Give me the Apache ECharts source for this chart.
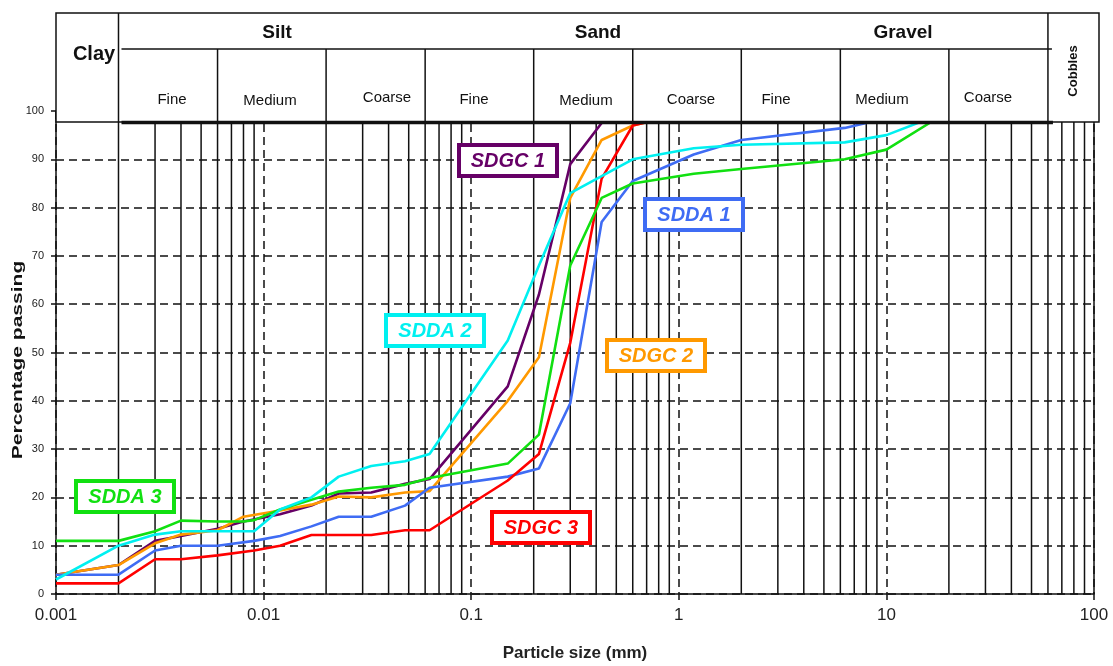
<!DOCTYPE html>
<html><head><meta charset="utf-8">
<script src="https://cdn.jsdelivr.net/npm/echarts/dist/echarts.min.js"></script>
<style>html,body{margin:0;padding:0;background:#fff}#c{width:1113px;height:666px}</style>
</head><body><div id="c"></div>
<script>
// ---- data ----
const sizes = [0.001,0.002,0.003,0.004,0.006,0.008,0.009,0.012,0.017,0.023,0.033,0.048,0.063,0.15,0.212,0.3,0.425,0.6,1.18,2,6.3,10,20];
const SDGC1 = [4,6,11,12,13.5,15,null,16.5,18.3,20.8,21,22.8,23.8,43,62,89,97.5,100,null,null,null,null,null];
const SDGC2 = [4,6,10.5,12.3,13.2,16,null,17.3,18.5,20.2,20,21,21.3,40,49,82,94,97,100,null,null,null,null];
const SDDA1 = [4,4,9,10,10,null,11,12,14,16,16,18.3,22,24.3,26,39.5,77,85.5,91,94,96.5,98.5,100];
const SDGC3 = [2.2,2.2,7.2,7.2,8,null,9,10,12.2,12.2,12.2,13.2,13.2,23.5,29,52,86,97,100,null,null,null,null];
const SDDA3 = [11,11,13,15.2,15,15,15.3,17.5,19.5,21.2,22,22.6,24,27,33,68,82,85,87,88,90,92,100];
const SDDA2 = [3,10,12.3,13,13,13,13,17.5,20,24.3,26.5,27.5,29,52.5,68,83,86.5,90,92.3,93,93.5,95,100];
const xTickLabels = ['0.001','0.01','0.1','1','10','100'];
const yTicks = [0,10,20,30,40,50,60,70,80,90,100];
const headerMain = ['Silt','Sand','Gravel'];
const headerSub = ['Fine','Medium','Coarse','Fine','Medium','Coarse','Fine','Medium','Coarse'];
const headerSubBounds = [0.002,0.006,0.02,0.06,0.2,0.6,2,6,20,60];
const minorGrid = [];
for (let e = -3; e < 2; e++) for (let k = 2; k <= 9; k++) minorGrid.push(+(k * Math.pow(10, e)).toPrecision(3));
minorGrid.push(100);

const FONT = '"Liberation Sans", Arial, sans-serif';
const seriesDefs = [
  {name:'SDGC 1', data:SDGC1, color:'#660066', box:[457,143]},
  {name:'SDGC 2', data:SDGC2, color:'#FF9900', box:[605,338]},
  {name:'SDDA 1', data:SDDA1, color:'#3F6CF4', box:[643,197]},
  {name:'SDGC 3', data:SDGC3, color:'#FF0000', box:[490,510]},
  {name:'SDDA 3', data:SDDA3, color:'#11E011', box:[74,479]},
  {name:'SDDA 2', data:SDDA2, color:'#00F0F0', box:[384,313]}
];
function pairs(vals){ const out=[]; vals.forEach((v,i)=>{ if(v!==null) out.push([sizes[i],v]); }); return out; }

const chart = echarts.init(document.getElementById('c'));
const dash = {color:'#111', width:1.5, type:[8,5]};
const series = [{
  type:'custom', silent:true, z:1, animation:false,
  data: minorGrid.map(v=>[v,0]),
  encode:{x:0, y:1},
  renderItem:(params, api)=>{
    const x = api.value(0);
    const p1 = api.coord([x, 0]), p2 = api.coord([x, 100]);
    return {type:'line', shape:{x1:p1[0], y1:p1[1], x2:p2[0], y2:p2[1]}, style:{stroke:'#111', lineWidth:1.5}};
  }
}];
seriesDefs.forEach(s=>series.push({
  name:s.name, type:'line', data:pairs(s.data), showSymbol:false, z:3,
  lineStyle:{color:s.color, width:2.6}, itemStyle:{color:s.color}, animation:false
}));

chart.setOption({
  animation:false,
  backgroundColor:'#fff',
  grid:{left:56, right:19, top:111, bottom:72, containLabel:false, outerBoundsMode:'none'},
  xAxis:{
    type:'log', logBase:10, min:0.001, max:100,
    axisLine:{lineStyle:{color:'#111', width:1.5}},
    axisTick:{show:true, length:6, lineStyle:{color:'#111', width:1.5}},
    axisLabel:{fontSize:17, color:'#222', margin:13, fontFamily:FONT,
      formatter:v=>xTickLabels[Math.round(Math.log10(v))+3]},
    splitLine:{show:true, lineStyle:dash},
    minorTick:{show:false}, minorSplitLine:{show:false},
    name:'Particle size (mm)', nameLocation:'middle', nameGap:51,
    nameTextStyle:{fontSize:17, fontWeight:'bold', color:'#222', fontFamily:FONT}
  },
  yAxis:{
    type:'value', min:0, max:100, interval:10,
    axisLine:{show:true, lineStyle:{color:'#111', width:1.5}},
    axisTick:{show:true, length:5, lineStyle:{color:'#111', width:1.5}},
    axisLabel:{fontSize:11, color:'#222', margin:12, fontFamily:FONT,
      formatter:v=>String(yTicks[Math.round(v/10)])},
    splitLine:{show:true, lineStyle:dash}
  },
  series: series
});

function drawOverlay(){
  const px = v => chart.convertToPixel({xAxisIndex:0}, v);
  const L = px(0.001), R = px(100) + 5, top = 13, mid = 49, bot = 122;
  const g = [];
  const Z = 100;
  g.push({type:'rect', z:Z, shape:{x:L, y:top, width:R-L, height:bot-top},
    style:{fill:'#fff', stroke:'#111', lineWidth:1.5}});
  const line = (x1,y1,x2,y2,w) => g.push({type:'line', z:Z+1, shape:{x1,y1,x2,y2}, style:{stroke:'#111', lineWidth:w||1.5}});
  line(px(0.002), top, px(0.002), bot);
  line(px(60), top, px(60), bot);
  line(px(0.002)+3, mid, px(60)+4, mid);
  headerSubBounds.slice(1,-1).forEach(b=>line(px(b), mid, px(b), bot));
  line(px(0.002)+3, bot+0.5, px(60)+5, bot+0.5, 3.5);
  const txt = (text, x, y, font, extra) => g.push(Object.assign({type:'text', z:Z+2, x, y,
    style:{text, font, fill:'#111', textAlign:'center', textVerticalAlign:'middle'}}, extra||{}));
  // label layout positions (pixels)
  const mainX = [277, 598, 903];
  const subX = [172, 270, 387, 474, 586, 691, 776, 882, 988];
  const subY = [100, 101, 98, 100, 101, 100, 100, 100, 98];
  txt('Clay', 94, 54, 'bold 20px '+FONT);
  headerMain.forEach((t,i)=>txt(t, mainX[i], 33, 'bold 19px '+FONT));
  headerSub.forEach((t,i)=>txt(t, subX[i], subY[i], '15px '+FONT));
  txt('Cobbles', (px(60)+R)/2, 71, 'bold 13px '+FONT, {rotation:Math.PI/2});
  // y axis name
  txt('Percentage passing', 18, 360, 'bold 15px '+FONT, {rotation:Math.PI/2, scaleX:1.4});
  // series label boxes
  seriesDefs.forEach(s=>{
    const [bx,by] = s.box;
    g.push({type:'rect', z:Z+3, shape:{x:bx+2, y:by+2, width:98, height:31},
      style:{fill:'#fff', stroke:s.color, lineWidth:4}});
    g.push({type:'text', z:Z+4, x:bx+51, y:by+18,
      style:{text:s.name, font:'italic bold 20px '+FONT, fill:s.color, textAlign:'center', textVerticalAlign:'middle'}});
  });
  chart.setOption({graphic:{elements:g}});
}
drawOverlay();
</script></body></html>
